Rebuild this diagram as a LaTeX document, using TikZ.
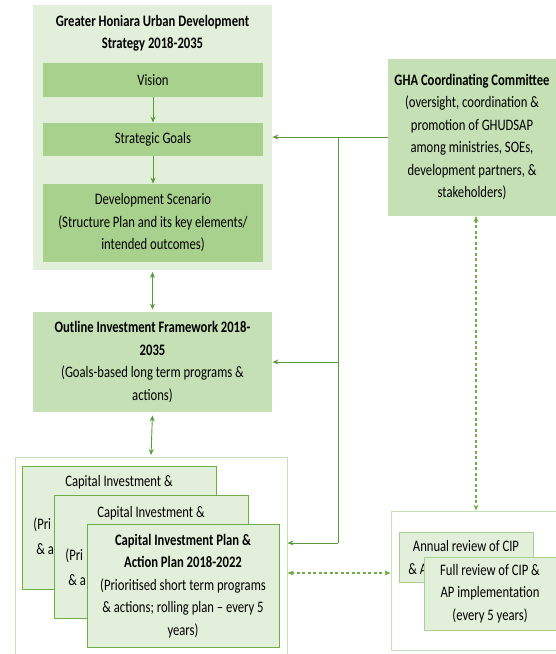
\documentclass[tikz,border=0pt]{standalone}
\usepackage{fontspec}
\setmainfont{Carlito}[FakeStretch=0.79]
\usepackage{tikz}
\usetikzlibrary{arrows.meta}
\usetikzlibrary{positioning}
\definecolor{palegreen}{HTML}{E2EFDA}
\definecolor{midgreen}{HTML}{C5E0B4}
\definecolor{leafgreen}{HTML}{A9D18E}
\definecolor{linegreen}{HTML}{70AD47}
\definecolor{arrowgreen}{HTML}{5B9A3C}

\begin{document}
\begin{tikzpicture}[x=1pt, y=-1pt, line width=0.9pt,
	every node/.style={font=\fontsize{16}{22.5}\selectfont, align=center, inner sep=0pt}]
		\tikzstyle{panel}=[fill=palegreen]
		\tikzstyle{item}=[fill=leafgreen, minimum width=220pt]
		\tikzstyle{block}=[fill=midgreen]
		\tikzstyle{frame}=[draw=midgreen, fill=white]
		\tikzstyle{card}=[draw=linegreen, fill=palegreen, minimum height=123pt]
		\tikzstyle{note}=[draw=leafgreen, fill=palegreen]
		\tikzstyle{bit}=[anchor=west]
		\tikzstyle{wire}=[draw=arrowgreen]
		\tikzstyle{link}=[draw=arrowgreen, -{Stealth[length=6pt,width=5pt]}]
		\tikzstyle{twoway}=[draw=arrowgreen, {Stealth[length=6pt,width=5pt]}-{Stealth[length=6pt,width=5pt]}]
		\tikzstyle{revlink}=[draw=linegreen, line width=1.2pt, dash pattern=on 3pt off 2.5pt, {Stealth[length=6pt,width=5pt]}-{Stealth[length=6pt,width=5pt]}]
		\useasboundingbox (0,0) rectangle (555,654);
		% strategy and its parts
		\node[panel, minimum width=239pt, minimum height=265pt] (ghuds) at (152.5,137) {};
		\node[font=\bfseries\fontsize{16}{22.5}\selectfont] (ghudstitle) at (152.5,33)
		{Greater Honiara Urban Development\\Strategy 2018-2035};
		\node[item, minimum height=34pt] (vision) at (153,80) {Vision};
		\node[item, minimum height=33pt] (goals) at (153,139.5) {Strategic Goals};
		\node[item, minimum height=78pt] (scenario) at (153,223)
		{Development Scenario\\(Structure Plan and its key elements/\\intended outcomes)};
		\node[block, minimum width=239pt, minimum height=100pt] (oif) at (152.5,362)
		{\textbf{Outline Investment Framework 2018-}\\\textbf{2035}\\(Goals-based long term programs \&\\actions)};
		% capital investment plans
		\node[frame, minimum width=272pt, minimum height=205pt, anchor=north] (cipbox) at (151,457) {};
		\node[card, minimum width=194pt] (cip1) at (119,527.5) {};
		\node (cip1top) at (119,482) {Capital Investment \&};
		\node[bit] (cip1a) at (33,525) {(Pri};
		\node[bit] (cip1b) at (36,549) {\& a};
		\node[card, minimum width=194pt] (cip2) at (151,556.5) {};
		\node (cip2top) at (151,513) {Capital Investment \&};
		\node[bit] (cip2a) at (65,556) {(Pri};
		\node[bit] (cip2b) at (68,580) {\& a};
		\node[card, minimum width=192pt] (cip3) at (183,586)
		{\textbf{Capital Investment Plan \&}\\\textbf{Action Plan 2018-2022}\\(Prioritised short term programs\\\& actions; rolling plan -- every 5\\years)};
		% committee and reviews
		\node[block, minimum width=168pt, minimum height=157pt] (gha) at (472,137)
		{\textbf{GHA Coordinating Committee}\\(oversight, coordination \&\\promotion of GHUDSAP\\among ministries, SOEs,\\development partners, \&\\stakeholders)};
		\node[frame, minimum width=170pt, minimum height=139pt] (revbox) at (476,580.5) {};
		\node[note, minimum width=134pt, minimum height=50pt] (annual) at (466,557) {};
		\node (annualtop) at (466,546) {Annual review of CIP};
		\node[bit] (annualb) at (408,569) {\& A};
		\node[note, minimum width=132pt, minimum height=73pt] (full) at (490,593.5)
		{Full review of CIP \&\\AP implementation\\(every 5 years)};
		% connectors
		\draw[link] (vision) -- (goals);
		\draw[link] (goals) -- (scenario);
		\draw[twoway, shorten <=2pt, shorten >=2pt] (ghuds.south) -- (oif.north);
		\draw[twoway, shorten <=3pt, shorten >=2pt] (oif.south) -- (cipbox.north);
		\coordinate (fork) at (338,137);
		\coordinate (foot) at (338,543);
		\coordinate (swap) at (338,573);
		\draw[link] (gha.west) -- (gha.west -| ghuds.east);
		\draw[wire] (fork) -- (foot);
		\draw[link] (fork |- oif.east) -- (oif.east);
		\draw[link] (foot) -- (foot -| cipbox.east);
		\draw[revlink] (revbox.north |- gha.south) -- (revbox.north);
		\draw[revlink] (swap -| cipbox.east) -- (swap -| revbox.west);
	\end{tikzpicture}
\end{document}
